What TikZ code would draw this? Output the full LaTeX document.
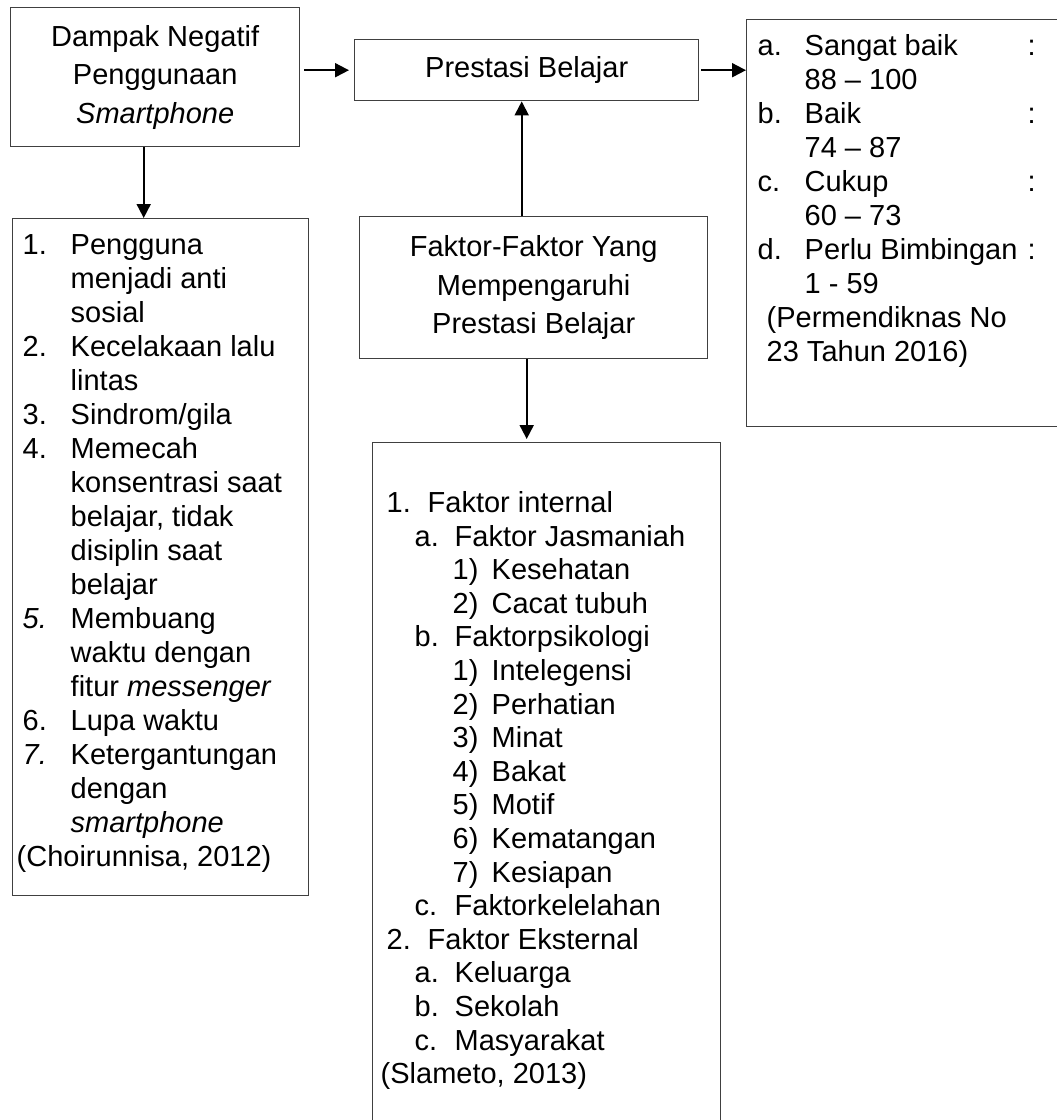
\documentclass[tikz,border=0pt]{standalone}
\usepackage{fontspec}
\setmainfont{Liberation Sans}
\usetikzlibrary{positioning,arrows.meta}
\definecolor{garis}{HTML}{404040}
\tikzset{
  panah/.style={-{Triangle[length=14pt,width=14pt]},line width=1.9pt},
  kotak/.style={draw=garis,line width=1.4pt,inner sep=0pt,anchor=north west},
  judul/.style={kotak,align=center,font=\fontsize{29}{38.5}\selectfont},
  daftar/.style={kotak,font=\fontsize{29}{34}\selectfont}
}
% isi kotak: lebar, tinggi, jarak atas, isi
\newcommand{\isikotak}[4]{\parbox[c][#2][t]{#1}{\vspace*{#3}\strut#4}}
% teks pada jarak tertentu dari tepi kiri baris
\newcommand{\di}[2]{\makebox[0pt][l]{\hspace*{#1}#2}}

\begin{document}
\begin{tikzpicture}[x=1pt,y=-1pt]
    \useasboundingbox (0,0) rectangle (1057,1120);

    \node[judul,minimum width=289pt,minimum height=139pt] (dampak) at (10,7)
        {Dampak Negatif\\Penggunaan\\\textit{Smartphone}};
    \node[judul,minimum width=344pt,minimum height=61pt] (prestasi) at (354,39)
        {Prestasi Belajar};
    \node[judul,minimum width=348pt,minimum height=142pt] (faktor) at (359,216)
        {Faktor-Faktor Yang\\Mempengaruhi\\Prestasi Belajar};

    \node[daftar] (kriteria) at (746,19) {\isikotak{316pt}{407pt}{12.2pt}{%
        \di{11pt}{a.}\di{58pt}{Sangat baik}\di{281pt}{:}\\
        \di{58pt}{88 – 100}\\
        \di{11pt}{b.}\di{58pt}{Baik}\di{281pt}{:}\\
        \di{58pt}{74 – 87}\\
        \di{11pt}{c.}\di{58pt}{Cukup}\di{281pt}{:}\\
        \di{58pt}{60 – 73}\\
        \di{11pt}{d.}\di{58pt}{Perlu Bimbingan}\di{281pt}{:}\\
        \di{58pt}{1 - 59}\\
        \di{20pt}{(Permendiknas No}\\
        \di{20pt}{23 Tahun 2016)}}};

    \node[daftar] (akibat) at (12,218) {\isikotak{296pt}{677pt}{12.2pt}{%
        \di{10pt}{1.}\di{58pt}{Pengguna}\\
        \di{58pt}{menjadi anti}\\
        \di{58pt}{sosial}\\
        \di{10pt}{2.}\di{58pt}{Kecelakaan lalu}\\
        \di{58pt}{lintas}\\
        \di{10pt}{3.}\di{58pt}{Sindrom/gila}\\
        \di{10pt}{4.}\di{58pt}{Memecah}\\
        \di{58pt}{konsentrasi saat}\\
        \di{58pt}{belajar, tidak}\\
        \di{58pt}{disiplin saat}\\
        \di{58pt}{belajar}\\
        \di{10pt}{\textit{5.}}\di{58pt}{Membuang}\\
        \di{58pt}{waktu dengan}\\
        \di{58pt}{fitur \textit{messenger}}\\
        \di{10pt}{6.}\di{58pt}{Lupa waktu}\\
        \di{10pt}{\textit{7.}}\di{58pt}{Ketergantungan}\\
        \di{58pt}{dengan}\\
        \di{58pt}{\textit{smartphone}}\\
        \di{4pt}{(Choirunnisa, 2012)}}};

    \node[daftar,font=\fontsize{29}{33.6}\selectfont] (rincian) at (372,442) {\isikotak{348pt}{700pt}{46.2pt}{%
        \di{14pt}{1.}\di{55pt}{Faktor internal}\\
        \di{42pt}{a.}\di{82pt}{Faktor Jasmaniah}\\
        \di{80pt}{1)}\di{119pt}{Kesehatan}\\
        \di{80pt}{2)}\di{119pt}{Cacat tubuh}\\
        \di{42pt}{b.}\di{82pt}{Faktorpsikologi}\\
        \di{80pt}{1)}\di{119pt}{Intelegensi}\\
        \di{80pt}{2)}\di{119pt}{Perhatian}\\
        \di{80pt}{3)}\di{119pt}{Minat}\\
        \di{80pt}{4)}\di{119pt}{Bakat}\\
        \di{80pt}{5)}\di{119pt}{Motif}\\
        \di{80pt}{6)}\di{119pt}{Kematangan}\\
        \di{80pt}{7)}\di{119pt}{Kesiapan}\\
        \di{42pt}{c.}\di{82pt}{Faktorkelelahan}\\
        \di{14pt}{2.}\di{55pt}{Faktor Eksternal}\\
        \di{42pt}{a.}\di{82pt}{Keluarga}\\
        \di{42pt}{b.}\di{82pt}{Sekolah}\\
        \di{42pt}{c.}\di{82pt}{Masyarakat}\\
        \di{8pt}{(Slameto, 2013)}}};

    \draw[panah,shorten <=4pt,shorten >=5pt] (prestasi.west -| dampak.east) -- (prestasi.west);
    \draw[panah,shorten <=2pt] (prestasi.east) -- (prestasi.east -| kriteria.west);
    \draw[panah] ([xshift=-11.5pt]dampak.south) -- ([xshift=-11.5pt]dampak.south |- akibat.north);
    \draw[panah] ([xshift=-5pt]prestasi.south |- faktor.north) -- ([xshift=-5pt]prestasi.south);
    \draw[panah,shorten >=3pt] (faktor.south -| prestasi.south) -- (rincian.north -| prestasi.south);
\end{tikzpicture}
\end{document}
